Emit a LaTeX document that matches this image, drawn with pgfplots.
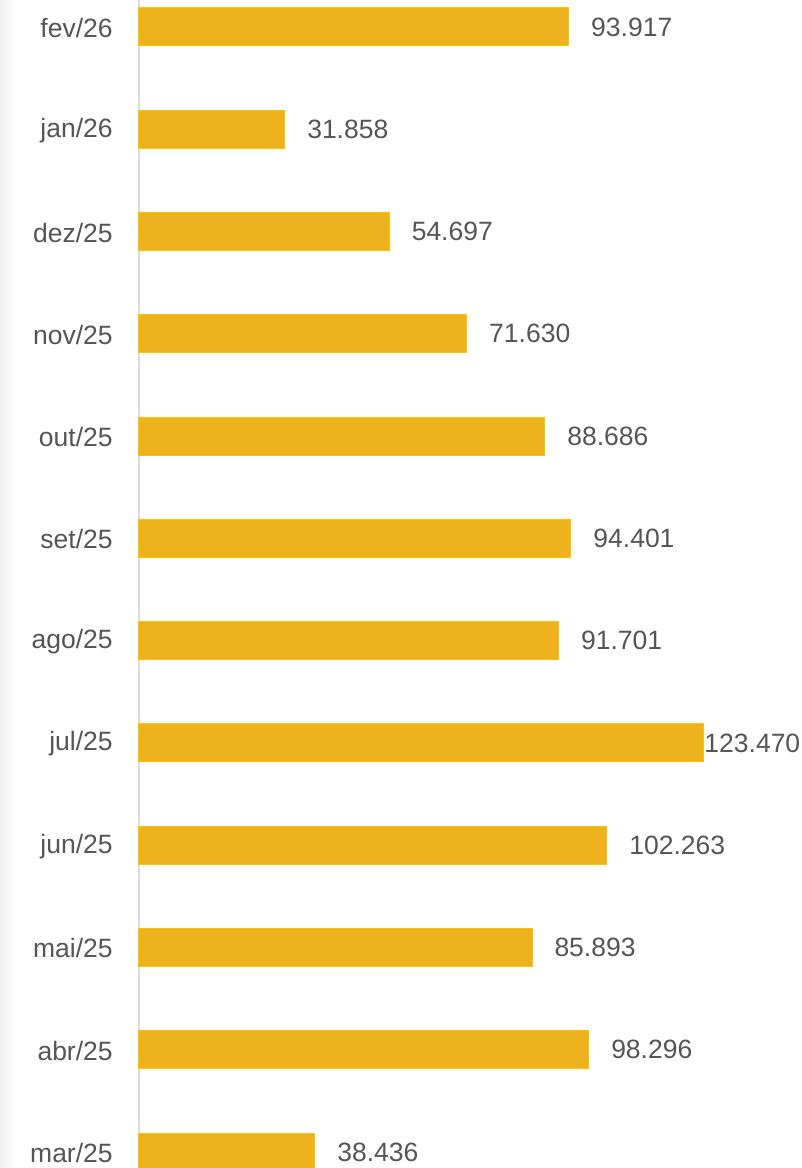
\documentclass[border=0pt]{standalone}
\usepackage{pgfplots}
\pgfplotsset{compat=1.18}
\usepackage{fontspec}
\setmainfont{Liberation Sans}
\definecolor{barfill}{RGB}{238,178,30}
\definecolor{bardraw}{RGB}{250,195,0}
\definecolor{txt}{RGB}{85,85,85}
\definecolor{axl}{RGB}{220,220,220}
\begin{document}
\begin{tikzpicture}
\begin{axis}[
  name=ax,
  scale only axis, width=663pt, height=1168pt,
  xbar, bar width=38pt,
  xmin=0, xmax=144.9, ymin=-0.156, ymax=11.264,
  axis x line=none, axis y line=left,
  axis line style={-, draw=axl, line width=1.5pt},
  ytick={0,...,11},
  yticklabels={mar/25,abr/25,mai/25,jun/25,jul/25,ago/25,set/25,out/25,nov/25,dez/25,jan/26,fev/26},
  ytick style={draw=none},
  yticklabel style={anchor=east, inner sep=0pt, xshift=-24pt, yshift=-1pt, text=txt, font=\fontsize{26.5}{31}\selectfont},
  clip=false,
  point meta=x,
  nodes near coords,
  nodes near coords style={anchor=west, inner sep=0pt, text=txt, font=\fontsize{26.5}{31}\selectfont,
    /pgf/number format/fixed, /pgf/number format/fixed zerofill, /pgf/number format/precision=3,
    /pgf/number format/1000 sep={}, /pgf/number format/assume math mode=true},
]
\addplot[fill=barfill, draw=bardraw, line width=1pt, bar shift=0pt,
  nodes near coords style={xshift=22pt}] coordinates {
  (38.436,0) (98.296,1) (85.893,2) (102.263,3)
  (91.701,5) (94.401,6) (88.686,7) (71.630,8) (54.697,9) (31.858,10) (93.917,11)};
\addplot[fill=barfill, draw=bardraw, line width=1pt, bar shift=0pt,
  nodes near coords style={xshift=0pt}] coordinates {(123.470,4)};
\end{axis}
\shade[left color=gray!12, right color=white] ([xshift=-139pt]ax.south west) rectangle ([xshift=-123pt]ax.north west);
\pgfresetboundingbox
\path[use as bounding box] ([xshift=-139pt]ax.south west) rectangle (ax.north east);
\end{tikzpicture}
\end{document}
